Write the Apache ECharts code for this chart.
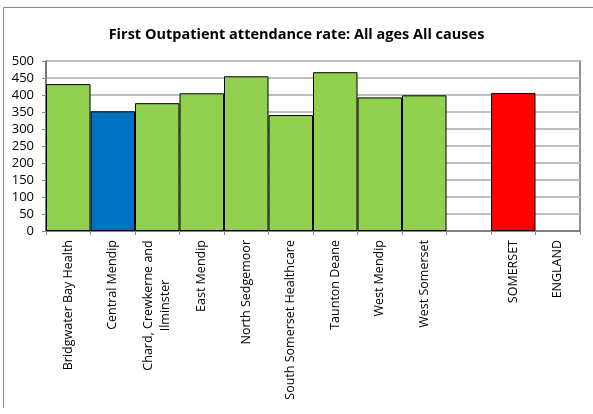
<!DOCTYPE html>
<html>
<head>
<meta charset="utf-8">
<script src="https://cdn.jsdelivr.net/npm/echarts@6/dist/echarts.min.js"></script>
<style>html,body{margin:0;padding:0;background:#fff}#c{width:593px;height:414px}</style>
</head>
<body>
<div id="c"></div>
<script>
var categories = ['Bridgwater Bay Health','Central Mendip','Chard, Crewkerne and\nIlminster','East Mendip','North Sedgemoor','South Somerset Healthcare','Taunton Deane','West Mendip','West Somerset','','SOMERSET','ENGLAND'];
var values = [432, 352, 376, 405, 455, 341, 467, 393, 399, null, 406, null];
var barColors = ['#92d050','#0070c0','#92d050','#92d050','#92d050','#92d050','#92d050','#92d050','#92d050','#92d050','#ff0000','#92d050'];
var yTicks = {min: 0, max: 500, interval: 50};
var titleText = 'First Outpatient attendance rate: All ages All causes';

var font = 'Open Sans';
var labelSize = 12.5;
var cv = document.createElement('canvas').getContext('2d');
cv.font = labelSize + 'px "' + font + '"';

// wrapped labels: every line centred on the widest line
function fmt(v) {
  var lines = v.split('\n');
  if (lines.length < 2) return v;
  var w = 0;
  lines.forEach(function (l) { w = Math.max(w, cv.measureText(l).width); });
  rich.c.width = Math.ceil(w);
  return lines.map(function (l) { return '{c|' + l + '}'; }).join('\n');
}
var rich = {c: {fontFamily: font, fontSize: labelSize, color: '#000', align: 'center', lineHeight: 17, width: 100}};
categories.forEach(function (c) { if (c.indexOf('\n') >= 0) fmt(c); });

var chart = echarts.init(document.getElementById('c'), null, {renderer: 'canvas'});
chart.setOption({
  animation: false,
  backgroundColor: '#fff',
  title: {
    text: titleText, left: 'center', top: 22,
    textStyle: {fontFamily: font, fontWeight: 'bold', fontSize: 14.5, color: '#000'}
  },
  graphic: [
    {type: 'line', shape: {x1: 3.5, y1: 7.5, x2: 593, y2: 7.5}, style: {stroke: '#888', lineWidth: 1}},
    {type: 'line', shape: {x1: 3.5, y1: 7.5, x2: 3.5, y2: 408}, style: {stroke: '#888', lineWidth: 1}}
  ],
  grid: {left: 46, right: 13, top: 61, bottom: 183, show: true, borderColor: '#6f6f6f', borderWidth: 1.5, containLabel: false},
  xAxis: {
    type: 'category', data: categories, boundaryGap: true,
    axisLine: {lineStyle: {color: '#6f6f6f', width: 1.5}},
    axisTick: {show: true, length: 4, lineStyle: {color: '#888'}},
    axisLabel: {interval: 0, rotate: 90, fontFamily: font, fontSize: labelSize, color: '#000', margin: 9, lineHeight: 17,
      formatter: fmt, rich: rich}
  },
  yAxis: {
    type: 'value', min: yTicks.min, max: yTicks.max, interval: yTicks.interval,
    axisLine: {show: true, lineStyle: {color: '#6f6f6f', width: 1.5}},
    axisTick: {show: true, length: 4, lineStyle: {color: '#888'}},
    splitLine: {lineStyle: {color: '#bfbfbf', width: 2}},
    axisLabel: {fontFamily: font, fontSize: 13, color: '#000', margin: 12}
  },
  series: [{
    type: 'bar',
    data: values.map(function (v, i) {
      return {value: v, itemStyle: {color: barColors[i]}};
    }),
    barCategoryGap: '0%',
    itemStyle: {borderColor: '#000', borderWidth: 1}
  }]
});
</script>
</body>
</html>
